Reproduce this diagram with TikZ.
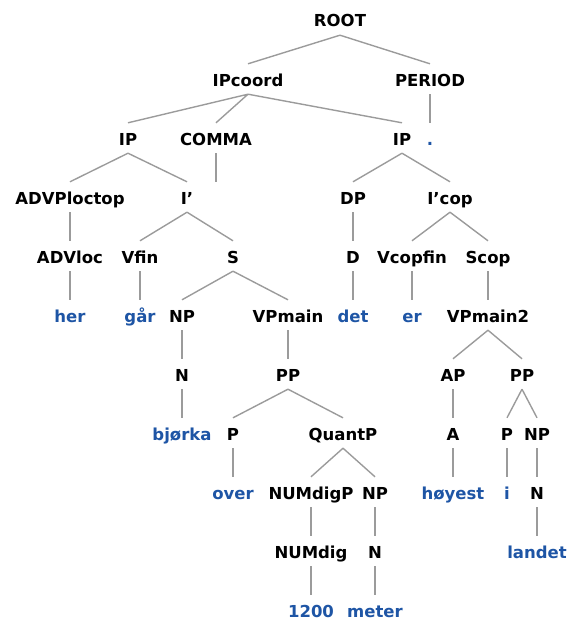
\documentclass[tikz,border=0pt]{standalone}
\usepackage{fontspec}
\setmainfont{DejaVu Sans}
\definecolor{leafblue}{RGB}{30,85,165}
\definecolor{branchgray}{RGB}{155,155,155}
\tikzset{
  cat/.style={anchor=base,inner xsep=0pt,inner ysep=5pt,text height=17pt,text depth=3pt,
    font=\fontsize{16.5}{16.5}\selectfont\bfseries},
  word/.style={cat,text=leafblue},
  branch/.style={draw=branchgray,line width=1.4pt}
}

\begin{document}
\begin{tikzpicture}[x=1pt,y=-1pt]
	\useasboundingbox (0,0) rectangle (571,621);
	% row 0 and 1
	\node[cat] (root) at (340,27) {ROOT};
	\node[cat] (ipcoord) at (248,86) {IPcoord};
	\node[cat] (period) at (430,86) {PERIOD};
	% row 2
	\node[cat] (ipa) at (128,145) {IP};
	\node[cat] (comma) at (216,145) {COMMA};
	\node[cat] (ipb) at (402,145) {IP};
	\node[word] (dot) at (430,145) {.};
	% row 3
	\node[cat] (advploctop) at (70,204) {ADVPloctop};
	\coordinate (commaend) at (216,182);
	\node[cat] (ibar) at (187,204) {I'};
	\node[cat] (dp) at (353,204) {DP};
	\node[cat] (ibarcop) at (450,204) {I'cop};
	% row 4
	\node[cat] (advloc) at (70,263) {ADVloc};
	\node[cat] (vfin) at (140,263) {Vfin};
	\node[cat] (s) at (233,263) {S};
	\node[cat] (d) at (353,263) {D};
	\node[cat] (vcopfin) at (412,263) {Vcopfin};
	\node[cat] (scop) at (488,263) {Scop};
	% row 5
	\node[word] (her) at (70,322) {her};
	\node[word] (gaar) at (140,322) {går};
	\node[cat] (npa) at (182,322) {NP};
	\node[cat] (vpmain) at (288,322) {VPmain};
	\node[word] (det) at (353,322) {det};
	\node[word] (er) at (412,322) {er};
	\node[cat] (vpmaintwo) at (488,322) {VPmain2};
	% row 6
	\node[cat] (na) at (182,381) {N};
	\node[cat] (ppa) at (288,381) {PP};
	\node[cat] (ap) at (453,381) {AP};
	\node[cat] (ppb) at (522,381) {PP};
	% row 7
	\node[word] (bjorka) at (182,440) {bjørka};
	\node[cat] (pa) at (233,440) {P};
	\node[cat] (quantp) at (343,440) {QuantP};
	\node[cat] (a) at (453,440) {A};
	\node[cat] (pb) at (507,440) {P};
	\node[cat] (npc) at (537,440) {NP};
	% row 8
	\node[word] (over) at (233,499) {over};
	\node[cat] (numdigp) at (311,499) {NUMdigP};
	\node[cat] (npb) at (375,499) {NP};
	\node[word] (hoyest) at (453,499) {høyest};
	\node[word] (i) at (507,499) {i};
	\node[cat] (nc) at (537,499) {N};
	% row 9 and 10
	\node[cat] (numdig) at (311,558) {NUMdig};
	\node[cat] (nb) at (375,558) {N};
	\node[word] (landet) at (537,558) {landet};
	\node[word] (num) at (311,617) {1200};
	\node[word] (meter) at (375,617) {meter};

	% branches
	\draw[branch] (root.south) -- (ipcoord.north) (root.south) -- (period.north);
	\draw[branch] (ipcoord.south) -- (ipa.north) (ipcoord.south) -- (comma.north)
	  (ipcoord.south) -- (ipb.north);
	\draw[branch] (period.south) -- (dot.north);
	\draw[branch] (comma.south) -- (commaend);
	\draw[branch] (ipa.south) -- (advploctop.north) (ipa.south) -- (ibar.north);
	\draw[branch] (ipb.south) -- (dp.north) (ipb.south) -- (ibarcop.north);
	\draw[branch] (advploctop.south) -- (advloc.north);
	\draw[branch] (advloc.south) -- (her.north);
	\draw[branch] (ibar.south) -- (vfin.north) (ibar.south) -- (s.north);
	\draw[branch] (vfin.south) -- (gaar.north);
	\draw[branch] (s.south) -- (npa.north) (s.south) -- (vpmain.north);
	\draw[branch] (npa.south) -- (na.north);
	\draw[branch] (na.south) -- (bjorka.north);
	\draw[branch] (vpmain.south) -- (ppa.north);
	\draw[branch] (ppa.south) -- (pa.north) (ppa.south) -- (quantp.north);
	\draw[branch] (pa.south) -- (over.north);
	\draw[branch] (quantp.south) -- (numdigp.north) (quantp.south) -- (npb.north);
	\draw[branch] (numdigp.south) -- (numdig.north);
	\draw[branch] (numdig.south) -- (num.north);
	\draw[branch] (npb.south) -- (nb.north);
	\draw[branch] (nb.south) -- (meter.north);
	\draw[branch] (dp.south) -- (d.north);
	\draw[branch] (d.south) -- (det.north);
	\draw[branch] (ibarcop.south) -- (vcopfin.north) (ibarcop.south) -- (scop.north);
	\draw[branch] (vcopfin.south) -- (er.north);
	\draw[branch] (scop.south) -- (vpmaintwo.north);
	\draw[branch] (vpmaintwo.south) -- (ap.north) (vpmaintwo.south) -- (ppb.north);
	\draw[branch] (ap.south) -- (a.north);
	\draw[branch] (a.south) -- (hoyest.north);
	\draw[branch] (ppb.south) -- (pb.north) (ppb.south) -- (npc.north);
	\draw[branch] (pb.south) -- (i.north);
	\draw[branch] (npc.south) -- (nc.north);
	\draw[branch] (nc.south) -- (landet.north);
\end{tikzpicture}
\end{document}
